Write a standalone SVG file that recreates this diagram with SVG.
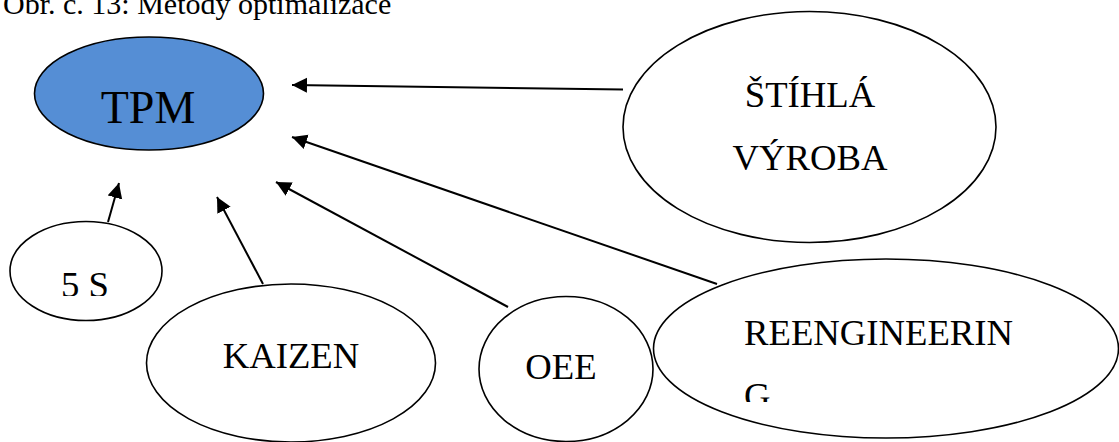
<svg xmlns="http://www.w3.org/2000/svg" width="1119" height="442" viewBox="0 0 1119 442">
<style>
.t{font-family:"Liberation Serif","Times New Roman",serif;fill:#000}
.n{fill:#fff;stroke:#000;stroke-width:1.6}
.c{stroke:#000;stroke-width:2;fill:none;marker-end:url(#ah)}
</style>
<defs>
<marker id="ah" markerUnits="userSpaceOnUse" markerWidth="16" markerHeight="16" refX="15" refY="7.5" orient="auto">
<path d="M0,0 L15,7.5 L0,15 z" fill="#000"/>
</marker>
<clipPath id="clip5s"><rect x="0" y="200" width="200" height="96"/></clipPath>
<clipPath id="clipG"><rect x="700" y="360" width="200" height="42"/></clipPath>
</defs>
<rect width="1119" height="442" fill="#fff"/>
<text class="t" x="3" y="14" font-size="30">Obr. c. 13: Metody optimalizace</text>
<g id="connectors">
<line class="c" x1="623" y1="89.5" x2="292" y2="85"/>
<line class="c" x1="717" y1="284" x2="292" y2="137"/>
<line class="c" x1="508" y1="307" x2="276" y2="182"/>
<line class="c" x1="263" y1="284" x2="217" y2="197"/>
<line class="c" x1="108" y1="222" x2="119" y2="183"/>
</g>
<g id="tpm">
<ellipse cx="149" cy="93.5" rx="114.5" ry="56.5" fill="#558ED5" stroke="#000" stroke-width="1.6"/>
<text class="t" x="148" y="123" font-size="46" text-anchor="middle">TPM</text>
</g>
<g id="stihla">
<ellipse class="n" cx="809.5" cy="127" rx="186.5" ry="115.5"/>
<text class="t" x="810" y="107" font-size="36.7" text-anchor="middle">ŠTÍHLÁ</text>
<text class="t" x="810" y="170" font-size="36.7" text-anchor="middle">VÝROBA</text>
</g>
<g id="fives">
<ellipse class="n" cx="86" cy="271" rx="76" ry="49.5"/>
<text class="t" x="85" y="297" font-size="36.7" text-anchor="middle" clip-path="url(#clip5s)">5 S</text>
</g>
<g id="kaizen">
<ellipse class="n" cx="291" cy="363" rx="144.5" ry="79"/>
<text class="t" x="291" y="368" font-size="36.7" text-anchor="middle">KAIZEN</text>
</g>
<g id="oee">
<ellipse class="n" cx="566" cy="369" rx="87" ry="72.5"/>
<text class="t" x="561" y="379" font-size="36.7" text-anchor="middle">OEE</text>
</g>
<g id="reengineering">
<ellipse class="n" cx="886" cy="348.5" rx="232.5" ry="89.5"/>
<text class="t" x="744" y="345" font-size="36.7">REENGINEERIN</text>
<text class="t" x="744" y="408" font-size="36.7" clip-path="url(#clipG)">G</text>
</g>
</svg>
